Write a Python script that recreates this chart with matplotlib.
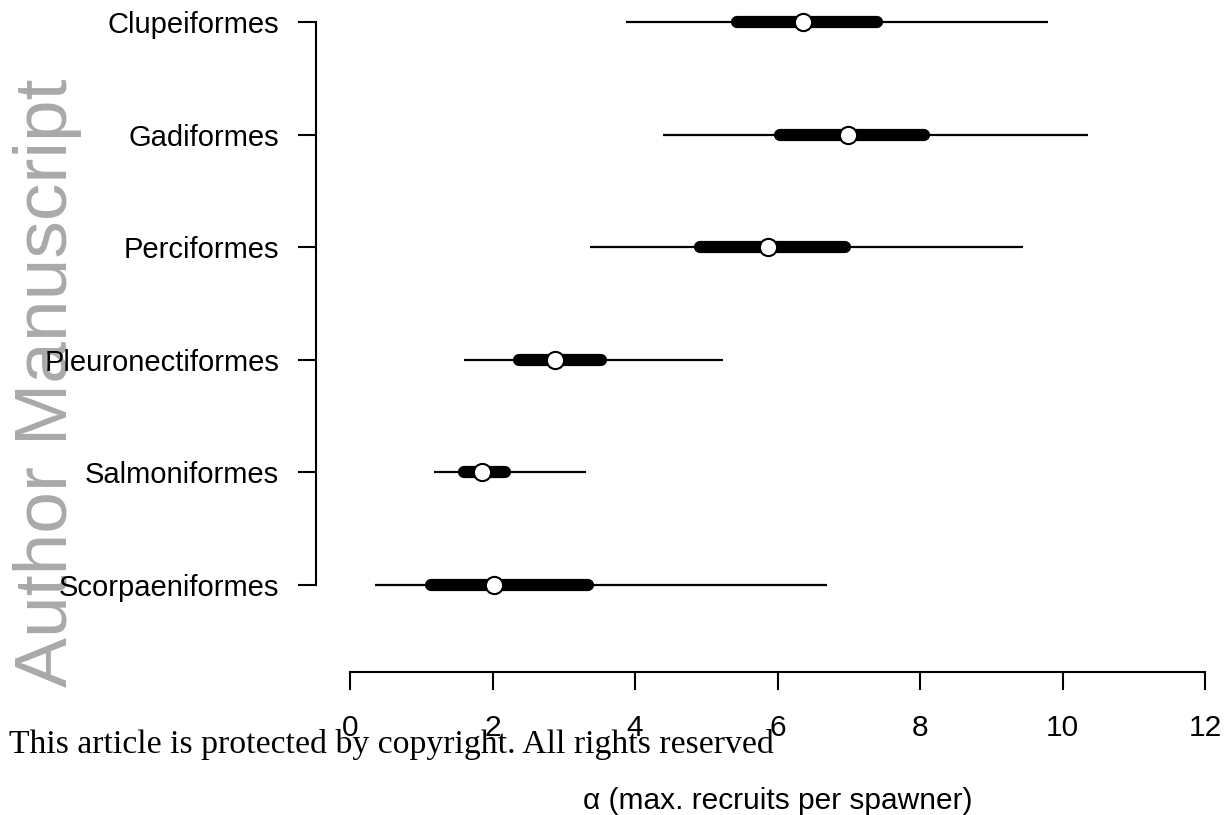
import matplotlib
matplotlib.use("Agg")
import matplotlib.pyplot as plt
from matplotlib.transforms import blended_transform_factory

# ---- data ----
categories = ["Clupeiformes", "Gadiformes", "Perciformes",
              "Pleuronectiformes", "Salmoniformes", "Scorpaeniformes"]
median   = [6.36, 6.99, 5.87, 2.88, 1.85, 2.02]
outer_lo = [3.87, 4.39, 3.37, 1.60, 1.18, 0.35]
outer_hi = [9.80, 10.36, 9.45, 5.24, 3.31, 6.69]
inner_lo = [5.43, 6.04, 4.91, 2.37, 1.60, 1.14]
inner_hi = [7.40, 8.06, 6.95, 3.52, 2.18, 3.34]
xticks = [0, 2, 4, 6, 8, 10, 12]

plt.rcParams['font.family'] = ['Liberation Sans', 'DejaVu Sans']

W, H = 1225, 815
fig = plt.figure(figsize=(W / 100, H / 100), dpi=100)

# axes: left edge at x=316 px, right at 1220 px, top at 0, bottom at 672 px
ax_l, ax_r, ax_t, ax_b = 316, 1220, 0, 672
ax = fig.add_axes([ax_l / W, 1 - ax_b / H, (ax_r - ax_l) / W, (ax_b - ax_t) / H])
ax.patch.set_visible(False)

pxu_x = 71.25        # pixels per x unit
pxu_y = 112.6        # pixels per category
ax.set_xlim(-(350 - ax_l) / pxu_x, 12 + (ax_r - 1205) / pxu_x)
ax.set_ylim(1 - (ax_b - 585) / pxu_y, 6 + 22 / pxu_y)

n = len(categories)
ypos = [n - i for i in range(n)]

for i in range(n):
    y = ypos[i]
    ax.plot([outer_lo[i], outer_hi[i]], [y, y], color='black', lw=1.6,
            solid_capstyle='butt', clip_on=False, zorder=2)
    ax.plot([inner_lo[i], inner_hi[i]], [y, y], color='black', lw=8.8,
            solid_capstyle='round', clip_on=False, zorder=3)
    ax.plot([median[i]], [y], marker='o', ms=12.4, mfc='white', mec='black',
            mew=1.5, linestyle='none', clip_on=False, zorder=4)

# R-style detached axes
for s in ['top', 'right']:
    ax.spines[s].set_visible(False)
ax.spines['left'].set_bounds(ypos[-1], ypos[0])
ax.spines['bottom'].set_bounds(0, 12)
ax.spines['left'].set_linewidth(1.5)
ax.spines['bottom'].set_linewidth(1.5)

ax.set_yticks(ypos)
ax.set_yticklabels(categories)
ax.set_xticks(xticks)
ax.set_xticklabels([str(t) for t in xticks])
ax.tick_params(axis='y', length=13, width=1.5, pad=13.5, labelsize=21)
ax.tick_params(axis='x', length=13, width=1.5, pad=17, labelsize=21.5)

# x label centred on the data range
tr = blended_transform_factory(ax.transData, fig.transFigure)
ax.text(6, 1 - 801 / H, "α (max. recruits per spawner)", transform=tr,
        ha='center', va='center', fontsize=21.5, clip_on=False)

# watermark
fig.text(67 / W, 1 - 687 / H, "Author Manuscript", rotation=90,
         rotation_mode='anchor', ha='left', va='baseline',
         fontsize=54, color='#a9a9a9', zorder=-1)

# copyright notice
fig.text(9 / W, 1 - 753 / H, "This article is protected by copyright. All rights reserved",
         ha='left', va='baseline', fontsize=24.3,
         family=['Liberation Serif', 'DejaVu Serif'], color='black', zorder=5)

fig.savefig("out.png", dpi=100)
